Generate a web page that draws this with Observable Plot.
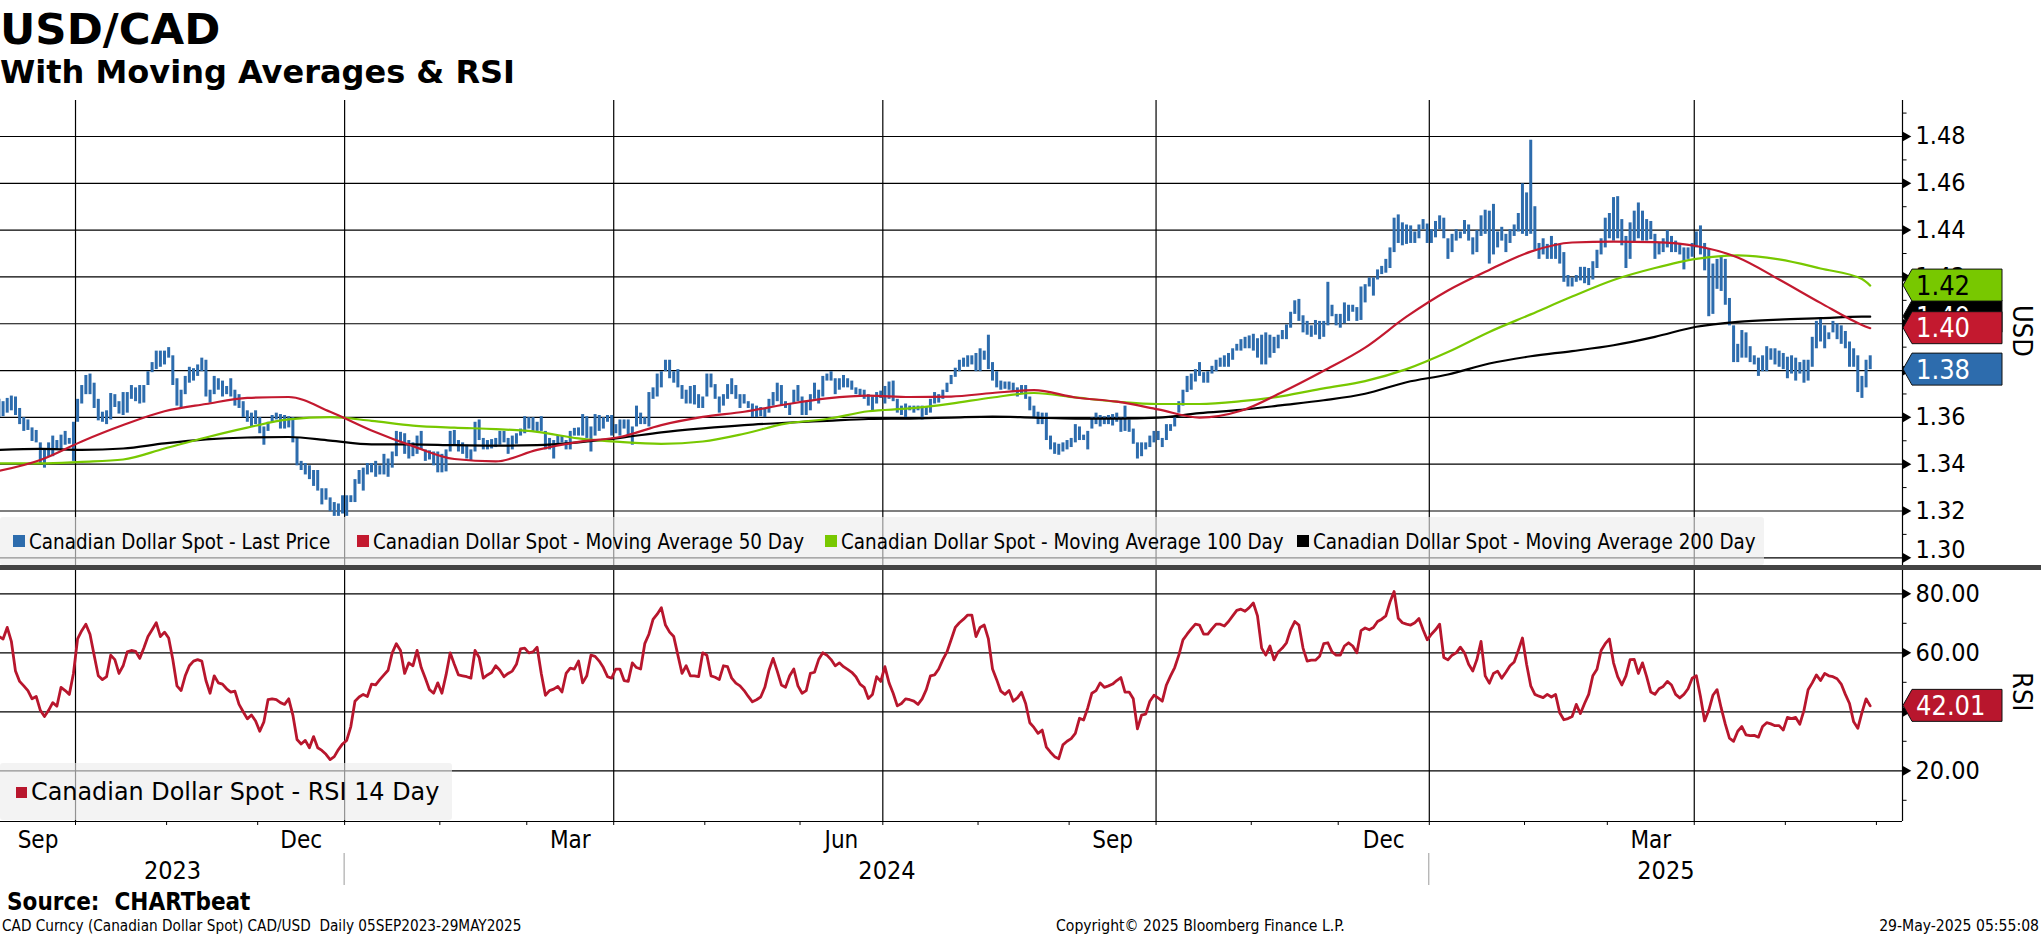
<!DOCTYPE html>
<html>
<head>
<meta charset="utf-8">
<script src="https://cdn.jsdelivr.net/npm/d3@7"></script>
<script src="https://cdn.jsdelivr.net/npm/@observablehq/plot@0.6"></script>
<style>
  html, body { margin: 0; padding: 0; background: #fff; }
  #wrap { position: relative; width: 2041px; height: 936px; overflow: hidden; background: #fff; color: #000;
          font-family: "DejaVu Sans Condensed", "DejaVu Sans", sans-serif; font-stretch: condensed; }
  .abs { position: absolute; white-space: pre; }
  .title { left: 0; top: 8px; font: bold 43.5px/43.5px "DejaVu Sans", sans-serif; font-stretch: normal; }
  .subtitle { left: 0; top: 56px; font: bold 32px/32px "DejaVu Sans", sans-serif; font-stretch: normal; }
  .legbox { position: absolute; left: 0; background: rgba(236,236,236,0.62); border-radius: 3px; }
  .sq { position: absolute; }
  .legtxt { position: absolute; white-space: pre; }
  .vlabel { position: absolute; writing-mode: vertical-rl; font-size: 27px; line-height: 27px; white-space: nowrap; }
  .sep { position: absolute; left: 0; top: 565px; width: 2041px; height: 5px; background: #444; }
</style>
</head>
<body>
<div id="wrap">
  <div class="abs title">USD/CAD</div>
  <div class="abs subtitle">With Moving Averages &amp; RSI</div>
</div>
<script>
// ---------------- DATA ----------------
const seriesStart = "2023-09-05";
const seriesEnd = "2025-05-29";
const seriesNames = [
  "Canadian Dollar Spot - Last Price",
  "Canadian Dollar Spot - Moving Average 50 Day",
  "Canadian Dollar Spot - Moving Average 100 Day",
  "Canadian Dollar Spot - Moving Average 200 Day"
];
const rsiName = "Canadian Dollar Spot - RSI 14 Day";

// Daily high / low (one value per trading day from 05SEP2023)
const priceHigh = [
  1.3677,1.3667,1.3681,1.3691,1.3687,1.3638,1.3599,1.3589,1.3555,1.3544,
  1.3491,1.3461,1.3491,1.3520,1.3501,1.3524,1.3540,1.3510,1.3579,1.3677,
  1.3736,1.3779,1.3785,1.3746,1.3677,1.3622,1.3628,1.3702,1.3697,1.3667,
  1.3706,1.3706,1.3736,1.3726,1.3736,1.3736,1.3795,1.3834,1.3883,1.3883,
  1.3883,1.3898,1.3863,1.3765,1.3716,1.3775,1.3814,1.3808,1.3824,1.3853,
  1.3844,1.3716,1.3775,1.3765,1.3755,1.3732,1.3765,1.3716,1.3697,1.3667,
  1.3628,1.3618,1.3628,1.3599,1.3559,1.3579,1.3608,1.3618,1.3612,1.3608,
  1.3603,1.3599,1.3510,1.3412,1.3403,1.3393,1.3373,1.3373,1.3295,1.3295,
  1.3256,1.3236,1.3230,1.3265,1.3265,1.3265,1.3334,1.3373,1.3383,1.3403,
  1.3403,1.3412,1.3393,1.3442,1.3422,1.3452,1.3540,1.3536,1.3530,1.3501,
  1.3491,1.3520,1.3540,1.3461,1.3457,1.3452,1.3452,1.3442,1.3461,1.3540,
  1.3544,1.3501,1.3491,1.3481,1.3461,1.3579,1.3589,1.3510,1.3501,1.3505,
  1.3510,1.3540,1.3540,1.3510,1.3520,1.3530,1.3550,1.3603,1.3599,1.3599,
  1.3579,1.3603,1.3540,1.3510,1.3501,1.3520,1.3520,1.3501,1.3540,1.3553,
  1.3555,1.3612,1.3603,1.3559,1.3612,1.3608,1.3599,1.3608,1.3608,1.3569,
  1.3589,1.3589,1.3589,1.3559,1.3648,1.3618,1.3599,1.3706,1.3726,1.3785,
  1.3795,1.3844,1.3844,1.3795,1.3804,1.3736,1.3716,1.3732,1.3736,1.3697,
  1.3687,1.3785,1.3785,1.3740,1.3687,1.3697,1.3740,1.3765,1.3736,1.3697,
  1.3697,1.3667,1.3657,1.3648,1.3642,1.3638,1.3677,1.3706,1.3746,1.3736,
  1.3667,1.3657,1.3716,1.3736,1.3687,1.3667,1.3697,1.3746,1.3716,1.3775,
  1.3785,1.3795,1.3765,1.3765,1.3779,1.3765,1.3755,1.3726,1.3720,1.3716,
  1.3697,1.3687,1.3706,1.3712,1.3732,1.3751,1.3755,1.3677,1.3648,1.3657,
  1.3648,1.3648,1.3648,1.3648,1.3642,1.3677,1.3706,1.3697,1.3716,1.3746,
  1.3779,1.3810,1.3844,1.3853,1.3863,1.3863,1.3873,1.3893,1.3883,1.3951,
  1.3834,1.3795,1.3755,1.3751,1.3751,1.3746,1.3726,1.3736,1.3736,1.3687,
  1.3648,1.3622,1.3618,1.3618,1.3520,1.3491,1.3485,1.3491,1.3501,1.3510,
  1.3569,1.3559,1.3524,1.3540,1.3599,1.3618,1.3608,1.3603,1.3608,1.3612,
  1.3618,1.3599,1.3648,1.3589,1.3550,1.3491,1.3491,1.3491,1.3520,1.3540,
  1.3540,1.3510,1.3569,1.3569,1.3599,1.3667,1.3716,1.3775,1.3785,1.3804,
  1.3834,1.3791,1.3795,1.3818,1.3844,1.3853,1.3863,1.3873,1.3893,1.3912,
  1.3932,1.3942,1.3948,1.3955,1.3936,1.3951,1.3961,1.3951,1.3942,1.3951,
  1.3971,1.3995,1.4049,1.4098,1.4104,1.4034,1.4010,1.3991,1.4014,1.4010,
  1.4010,1.4177,1.4079,1.4040,1.4040,1.4089,1.4079,1.4079,1.4069,1.4157,
  1.4167,1.4196,1.4196,1.4230,1.4245,1.4275,1.4324,1.4451,1.4465,1.4431,
  1.4422,1.4418,1.4392,1.4422,1.4445,1.4426,1.4402,1.4437,1.4461,1.4451,
  1.4363,1.4382,1.4402,1.4392,1.4441,1.4422,1.4367,1.4398,1.4461,1.4485,
  1.4481,1.4510,1.4392,1.4412,1.4382,1.4402,1.4422,1.4471,1.4598,1.4559,
  1.4784,1.4500,1.4343,1.4363,1.4339,1.4373,1.4343,1.4339,1.4304,1.4206,
  1.4196,1.4206,1.4241,1.4241,1.4236,1.4265,1.4314,1.4363,1.4451,1.4471,
  1.4539,1.4543,1.4445,1.4373,1.4431,1.4481,1.4516,1.4481,1.4445,1.4437,
  1.4382,1.4343,1.4363,1.4398,1.4373,1.4353,1.4343,1.4324,1.4324,1.4343,
  1.4392,1.4418,1.4343,1.4320,1.4255,1.4275,1.4284,1.4275,1.4108,1.3991,
  1.3912,1.3971,1.3961,1.3902,1.3863,1.3853,1.3863,1.3902,1.3893,1.3893,
  1.3883,1.3873,1.3857,1.3863,1.3853,1.3834,1.3844,1.3844,1.3942,1.4010,
  1.4020,1.3991,1.3961,1.4010,1.4000,1.3991,1.3967,1.3922,1.3893,1.3863,
  1.3775,1.3844,1.3863
];
const priceLow = [
  1.3599,1.3603,1.3618,1.3628,1.3608,1.3569,1.3540,1.3544,1.3497,1.3491,
  1.3403,1.3383,1.3432,1.3432,1.3461,1.3461,1.3481,1.3485,1.3412,1.3579,
  1.3657,1.3697,1.3697,1.3638,1.3585,1.3579,1.3569,1.3589,1.3642,1.3614,
  1.3608,1.3618,1.3677,1.3667,1.3657,1.3661,1.3736,1.3791,1.3804,1.3814,
  1.3824,1.3853,1.3736,1.3648,1.3638,1.3697,1.3746,1.3755,1.3775,1.3795,
  1.3687,1.3661,1.3697,1.3716,1.3687,1.3697,1.3687,1.3648,1.3638,1.3599,
  1.3579,1.3559,1.3569,1.3530,1.3481,1.3540,1.3579,1.3589,1.3550,1.3550,
  1.3555,1.3491,1.3393,1.3373,1.3354,1.3334,1.3305,1.3285,1.3226,1.3246,
  1.3197,1.3177,1.3177,1.3187,1.3177,1.3236,1.3236,1.3314,1.3285,1.3354,
  1.3363,1.3344,1.3354,1.3354,1.3344,1.3383,1.3432,1.3491,1.3442,1.3422,
  1.3432,1.3442,1.3461,1.3412,1.3418,1.3393,1.3363,1.3363,1.3367,1.3452,
  1.3481,1.3452,1.3442,1.3422,1.3412,1.3452,1.3501,1.3461,1.3461,1.3465,
  1.3471,1.3481,1.3491,1.3442,1.3461,1.3485,1.3520,1.3530,1.3550,1.3540,
  1.3540,1.3540,1.3461,1.3461,1.3422,1.3481,1.3491,1.3461,1.3461,1.3520,
  1.3520,1.3520,1.3510,1.3452,1.3520,1.3540,1.3550,1.3579,1.3520,1.3530,
  1.3520,1.3550,1.3520,1.3481,1.3559,1.3569,1.3569,1.3559,1.3677,1.3687,
  1.3726,1.3795,1.3765,1.3746,1.3726,1.3677,1.3657,1.3657,1.3653,1.3638,
  1.3638,1.3687,1.3726,1.3677,1.3618,1.3648,1.3677,1.3697,1.3677,1.3638,
  1.3657,1.3638,1.3599,1.3599,1.3603,1.3599,1.3618,1.3648,1.3667,1.3648,
  1.3638,1.3608,1.3657,1.3667,1.3608,1.3608,1.3628,1.3677,1.3657,1.3687,
  1.3755,1.3755,1.3697,1.3716,1.3726,1.3726,1.3716,1.3697,1.3687,1.3677,
  1.3648,1.3628,1.3657,1.3681,1.3657,1.3677,1.3667,1.3618,1.3608,1.3599,
  1.3628,1.3618,1.3628,1.3589,1.3608,1.3618,1.3657,1.3661,1.3677,1.3706,
  1.3740,1.3771,1.3795,1.3814,1.3814,1.3824,1.3795,1.3795,1.3844,1.3804,
  1.3755,1.3726,1.3716,1.3720,1.3716,1.3706,1.3687,1.3697,1.3677,1.3628,
  1.3599,1.3569,1.3569,1.3501,1.3461,1.3442,1.3438,1.3452,1.3461,1.3471,
  1.3491,1.3501,1.3501,1.3461,1.3550,1.3569,1.3559,1.3569,1.3569,1.3563,
  1.3579,1.3536,1.3540,1.3536,1.3485,1.3422,1.3432,1.3461,1.3471,1.3491,
  1.3501,1.3471,1.3501,1.3540,1.3559,1.3618,1.3648,1.3706,1.3716,1.3751,
  1.3775,1.3746,1.3746,1.3785,1.3795,1.3814,1.3814,1.3814,1.3844,1.3883,
  1.3883,1.3893,1.3893,1.3883,1.3853,1.3824,1.3824,1.3853,1.3873,1.3893,
  1.3932,1.3932,1.3981,1.4040,1.4010,1.3961,1.3951,1.3942,1.3951,1.3932,
  1.3942,1.3991,1.4030,1.3991,1.3981,1.4000,1.4010,1.4049,1.4010,1.4014,
  1.4089,1.4157,1.4118,1.4187,1.4210,1.4216,1.4236,1.4304,1.4343,1.4333,
  1.4339,1.4343,1.4343,1.4363,1.4402,1.4343,1.4343,1.4367,1.4402,1.4363,
  1.4275,1.4304,1.4353,1.4363,1.4382,1.4353,1.4294,1.4304,1.4373,1.4382,
  1.4255,1.4294,1.4324,1.4353,1.4304,1.4343,1.4373,1.4392,1.4382,1.4373,
  1.4382,1.4314,1.4275,1.4294,1.4275,1.4275,1.4275,1.4255,1.4177,1.4157,
  1.4157,1.4177,1.4183,1.4171,1.4163,1.4187,1.4236,1.4294,1.4324,1.4363,
  1.4353,1.4363,1.4333,1.4236,1.4275,1.4343,1.4363,1.4353,1.4353,1.4359,
  1.4275,1.4294,1.4304,1.4324,1.4304,1.4304,1.4294,1.4230,1.4275,1.4284,
  1.4324,1.4294,1.4226,1.4030,1.4040,1.4147,1.4138,1.4079,1.3991,1.3834,
  1.3834,1.3853,1.3853,1.3834,1.3824,1.3775,1.3795,1.3795,1.3844,1.3824,
  1.3814,1.3804,1.3765,1.3785,1.3755,1.3785,1.3746,1.3755,1.3814,1.3893,
  1.3922,1.3893,1.3932,1.3961,1.3932,1.3912,1.3893,1.3814,1.3814,1.3706,
  1.3681,1.3726,1.3804
];
const lastPrice = 1.3804;

// Moving averages, read every 10 trading days (last value = last trading day)
const maEvery = 10;
const ma50 = [1.3371,1.3418,1.3497,1.3567,1.3626,1.3657,1.3683,1.3687,1.3624,1.3544,
  1.3477,1.3422,1.3412,1.3461,1.3495,1.3516,1.3567,1.3602,1.3624,1.3655,
  1.3681,1.3693,1.3687,1.3689,1.3704,1.3716,1.3685,1.3667,1.3634,1.3599,
  1.3628,1.3708,1.3799,1.3898,1.4030,1.4142,1.4230,1.4308,1.4347,1.4351,
  1.4349,1.4332,1.4283,1.4189,1.4089,1.3995,1.3981];
const ma100 = [1.3403,1.3403,1.3410,1.3420,1.3467,1.3514,1.3556,1.3591,1.3601,1.3585,
  1.3565,1.3556,1.3550,1.3538,1.3510,1.3495,1.3487,1.3497,1.3530,1.3573,
  1.3593,1.3626,1.3638,1.3659,1.3685,1.3704,1.3685,1.3667,1.3657,1.3657,
  1.3669,1.3691,1.3724,1.3755,1.3806,1.3879,1.3965,1.4040,1.4116,1.4187,
  1.4238,1.4277,1.4292,1.4275,1.4236,1.4191,1.4163];
const ma200 = [1.3461,1.3465,1.3461,1.3467,1.3489,1.3506,1.3514,1.3516,1.3501,1.3485,
  1.3485,1.3481,1.3479,1.3481,1.3493,1.3512,1.3536,1.3553,1.3567,1.3577,
  1.3585,1.3593,1.3595,1.3599,1.3603,1.3599,1.3595,1.3595,1.3599,1.3618,
  1.3632,1.3652,1.3673,1.3701,1.3750,1.3783,1.3830,1.3861,1.3883,1.3908,
  1.3944,1.3987,1.4008,1.4018,1.4024,1.4030,1.4030];

// RSI 14 day, one value per trading day
const rsi14 = [
  65.5,64.7,68.6,63.9,53.8,50.3,48.8,47.2,44.4,45.2,
  40.5,38.4,40.5,43.1,41.9,48.3,47.2,45.9,53.0,64.7,
  67.5,69.7,66.3,59.2,52.2,50.9,51.9,59.2,57.7,53.0,
  55.6,60.3,60.8,60.5,58.1,61.6,65.5,67.8,70.2,65.5,
  67.0,65.0,57.7,48.8,47.2,52.2,55.6,57.2,57.7,57.2,
  50.6,46.3,52.2,49.8,49.4,47.8,46.7,47.0,42.5,40.0,
  37.6,38.9,36.9,33.4,36.6,44.1,44.4,44.1,43.1,42.5,
  44.4,38.9,30.6,29.1,30.3,27.8,31.6,27.8,26.9,25.6,
  23.8,24.8,27.2,29.1,30.3,35.0,43.6,45.0,45.9,45.2,
  49.4,49.1,50.9,52.5,54.1,60.0,63.1,60.8,53.0,56.6,
  55.6,60.8,55.0,51.4,47.5,46.3,49.8,46.3,52.5,60.0,
  56.1,52.5,52.2,51.9,51.4,60.8,58.4,51.4,52.5,53.3,
  55.6,54.1,51.9,53.0,53.8,56.1,61.3,61.6,60.0,60.3,
  61.9,53.0,45.6,47.2,47.7,48.6,46.7,53.0,54.8,54.5,
  57.2,49.8,52.2,59.2,58.8,57.2,55.0,51.9,51.4,54.5,
  54.5,50.6,50.3,56.6,55.0,54.5,63.1,66.3,71.3,73.1,
  75.3,69.4,67.0,65.5,59.2,53.0,55.6,52.2,52.2,51.9,
  60.0,59.2,52.2,51.7,50.9,55.6,55.3,51.4,49.7,48.8,
  47.2,45.2,43.4,44.1,45.0,48.3,54.1,58.1,53.8,49.1,
  48.3,52.2,54.5,48.8,46.3,47.2,53.0,53.4,57.7,60.0,
  59.2,57.7,55.6,56.6,55.3,54.4,53.4,51.9,49.4,48.3,
  44.5,45.9,51.9,50.3,55.3,49.8,46.3,42.0,42.8,44.4,
  44.1,43.6,42.5,44.4,47.5,52.2,52.5,54.5,57.7,60.3,
  64.4,68.6,70.2,71.4,72.8,72.8,65.5,68.6,69.4,64.7,
  54.5,50.9,47.0,45.9,47.2,43.6,44.7,46.6,42.8,36.3,
  34.7,32.7,33.8,28.0,26.3,24.8,24.1,28.8,30.0,30.9,
  32.7,37.8,37.2,41.3,46.3,47.2,49.8,48.3,48.8,49.4,
  50.6,51.6,46.7,46.7,44.4,34.2,38.9,39.2,43.6,45.6,
  44.7,43.6,49.1,52.2,55.0,59.2,64.4,66.3,68.1,69.7,
  69.4,66.3,66.3,68.1,69.7,69.7,69.1,70.6,72.5,74.4,
  74.8,74.1,75.3,76.9,72.5,61.6,59.2,62.3,57.6,60.3,
  61.6,63.4,67.8,70.6,69.4,61.6,57.2,57.5,57.5,58.8,
  63.1,63.4,60.3,59.2,59.2,62.3,63.4,62.3,60.0,67.5,
  68.4,67.8,68.6,70.6,71.4,72.5,77.2,80.8,71.7,70.2,
  69.7,69.4,70.2,71.6,67.8,64.4,66.3,67.8,69.7,58.4,
  57.6,59.2,60.0,61.9,60.0,56.1,53.8,57.7,63.9,52.2,
  49.7,53.0,53.8,51.4,53.4,55.6,56.9,60.8,65.0,56.1,
  48.8,45.9,45.3,44.8,45.9,45.0,45.9,39.7,37.3,37.7,
  38.4,42.5,39.4,42.8,45.9,52.2,54.4,60.8,63.1,64.7,
  56.6,51.9,49.1,52.2,57.7,57.8,53.0,56.6,51.9,46.7,
  45.9,47.8,48.6,50.3,49.1,45.9,44.7,45.9,47.8,51.4,
  52.2,45.2,36.9,40.5,45.6,47.5,41.3,35.8,31.1,30.0,
  33.4,35.0,32.2,31.9,32.0,31.4,35.0,36.3,35.9,35.3,
  35.3,33.8,38.1,37.7,38.1,35.8,40.5,47.5,49.8,52.5,
  50.6,53.0,52.2,51.9,51.2,49.4,45.9,42.8,36.6,34.4,
  39.7,44.4,42.01
];

// Axis ticks
const priceTicks = [1.30,1.32,1.34,1.36,1.38,1.40,1.42,1.44,1.46,1.48];
const priceMinor = [1.31,1.33,1.35,1.37,1.39,1.41,1.43,1.45,1.47,1.49];
const rsiTicks = [20,40,60,80];
const rsiMinor = [10,30,50,70];
const labelMonths = {8: "Sep", 11: "Dec", 2: "Mar", 5: "Jun"};

// ---------------- STYLE ----------------
const BLUE = "#2d6cad", RED = "#c3192f", GREEN = "#78c800", BLACK = "#000", RSI_RED = "#b8162d";
const W = 2041, PLOT_RIGHT = 1902;
const COND = '"DejaVu Sans Condensed", "DejaVu Sans", sans-serif';

// ---------------- CALENDAR (trading days = weekdays) ----------------
const sessions = [];
{
  const [sy, sm, sd] = seriesStart.split("-").map(Number);
  const d = new Date(Date.UTC(sy, sm - 1, sd));
  const stop = Date.UTC(2025, 5, 30);
  while (d.getTime() <= stop) {
    const w = d.getUTCDay();
    if (w !== 0 && w !== 6) sessions.push(new Date(d.getTime()));
    d.setUTCDate(d.getUTCDate() + 1);
  }
}
const N = priceHigh.length;
const lastIdx = N - 1;
const xDomain = [0.38, 459.8];

const bounds = [];
for (let k = 1; k < sessions.length; k++) {
  if (sessions[k].getUTCMonth() !== sessions[k - 1].getUTCMonth())
    bounds.push({pos: k - 0.5, month: sessions[k].getUTCMonth(), year: sessions[k].getUTCFullYear()});
}
const inDom = b => b.pos > xDomain[0] && b.pos < xDomain[1];
const monthTicks = bounds.filter(inDom).map(b => b.pos);
const quarterLines = bounds.filter(b => inDom(b) && b.month % 3 === 0).map(b => b.pos);
const yearLines = bounds.filter(b => inDom(b) && b.month === 0).map(b => b.pos);

const monthLabels = [];
{
  let a = xDomain[0], m = sessions[0].getUTCMonth(), first = 0;
  for (const b of bounds) {
    const end = Math.min(b.pos, xDomain[1]);
    if (labelMonths[m] && first <= lastIdx) monthLabels.push({c: (a + end) / 2, name: labelMonths[m]});
    if (b.pos >= xDomain[1]) break;
    a = b.pos; m = b.month; first = b.pos + 0.5;
  }
}
const years = [...new Set(sessions.slice(0, N).map(d => d.getUTCFullYear()))];
const yearLabels = years.map(y => {
  const s = bounds.find(b => b.month === 0 && b.year === y);
  const e = bounds.find(b => b.month === 0 && b.year === y + 1);
  const a = Math.max(xDomain[0], s ? s.pos : xDomain[0]);
  const z = Math.min(xDomain[1], e ? e.pos : xDomain[1]);
  return {c: (a + z) / 2, name: String(y)};
});

// ---------------- ROWS ----------------
const bars = d3.range(N).map(i => ({i, lo: priceLow[i], hi: priceHigh[i]}));
const maRows = arr => arr.map((v, k) => ({i: k === arr.length - 1 ? lastIdx : k * maEvery, v}));
const rsiRows = rsi14.map((v, i) => ({i, v}));

// ---------------- TOP PANE ----------------
const yTop = [1.29628, 1.49538];
const topChart = Plot.plot({
  width: W, height: 466,
  marginLeft: 0, marginRight: W - PLOT_RIGHT, marginTop: 0, marginBottom: 0,
  x: {type: "linear", domain: xDomain, axis: null},
  y: {domain: yTop, axis: null},
  style: {background: "transparent", overflow: "visible", fontFamily: COND, fontSize: "25px", color: "#000"},
  marks: [
    Plot.ruleY(priceTicks, {stroke: BLACK, strokeWidth: 1.2}),
    Plot.ruleX(quarterLines, {stroke: BLACK, strokeWidth: 1.2}),
    Plot.ruleX(bars, {x: "i", y1: "lo", y2: "hi", stroke: BLUE, strokeWidth: 3}),
    Plot.line(maRows(ma200), {x: "i", y: "v", stroke: BLACK, strokeWidth: 2.2, curve: "monotone-x"}),
    Plot.line(maRows(ma100), {x: "i", y: "v", stroke: GREEN, strokeWidth: 2.2, curve: "monotone-x"}),
    Plot.line(maRows(ma50), {x: "i", y: "v", stroke: RED, strokeWidth: 2.2, curve: "monotone-x"}),
    Plot.ruleX([xDomain[1]], {stroke: BLACK, strokeWidth: 1.2}),
    Plot.ruleY(priceMinor.filter(v => v < yTop[1]), {x1: xDomain[1], x2: xDomain[1] + 1.1, stroke: BLACK}),
    Plot.dot(priceTicks, {x: () => xDomain[1], y: d => d, symbol: "triangle", rotate: 90, r: 3.6, dx: 3.2, fill: BLACK, stroke: "none"}),
    Plot.axisY(priceTicks.slice(1), {anchor: "right", tickSize: 0, tickPadding: 13, tickFormat: d3.format(".2f"), label: null}),
    Plot.axisY(priceTicks.slice(0, 1), {anchor: "right", tickSize: 0, tickPadding: 13, tickFormat: d3.format(".2f"), label: null, dy: -8})
  ]
});

// ---------------- BOTTOM PANE ----------------
const yBot = [2.81, 88.58];
const botChart = Plot.plot({
  width: W, height: 321,
  marginLeft: 0, marginRight: W - PLOT_RIGHT, marginTop: 0, marginBottom: 68,
  x: {type: "linear", domain: xDomain, axis: null},
  y: {domain: yBot, axis: null},
  style: {background: "transparent", overflow: "visible", fontFamily: COND, fontSize: "25px", color: "#000"},
  marks: [
    Plot.ruleY(rsiTicks, {stroke: BLACK, strokeWidth: 1.2}),
    Plot.ruleX(quarterLines, {stroke: BLACK, strokeWidth: 1.2}),
    Plot.line(rsiRows, {x: "i", y: "v", stroke: RSI_RED, strokeWidth: 2.8, strokeLinejoin: "round"}),
    Plot.ruleX([xDomain[1]], {stroke: BLACK, strokeWidth: 1.2}),
    Plot.ruleY([yBot[0]], {stroke: BLACK, strokeWidth: 1.2}),
    Plot.ruleY(rsiMinor, {x1: xDomain[1], x2: xDomain[1] + 1.1, stroke: BLACK}),
    Plot.dot(rsiTicks, {x: () => xDomain[1], y: d => d, symbol: "triangle", rotate: 90, r: 3.6, dx: 3.2, fill: BLACK, stroke: "none"}),
    Plot.axisY(rsiTicks, {anchor: "right", tickSize: 0, tickPadding: 13, tickFormat: d3.format(".2f"), label: null}),
    Plot.axisX(monthTicks, {anchor: "bottom", tickSize: 4, tickFormat: () => "", label: null}),
    Plot.text(monthLabels, {x: "c", text: "name", frameAnchor: "bottom", lineAnchor: "bottom", dy: 26, fontSize: 24, fill: BLACK}),
    Plot.text(yearLabels, {x: "c", text: "name", frameAnchor: "bottom", lineAnchor: "bottom", dy: 57, fontSize: 25, fill: BLACK})
  ]
});

// ---------------- PLACE ----------------
const wrap = document.getElementById("wrap");
topChart.style.position = "absolute"; topChart.style.left = "0px"; topChart.style.top = "100px";
botChart.style.position = "absolute"; botChart.style.left = "0px"; botChart.style.top = "568px";
wrap.appendChild(topChart);
wrap.appendChild(botChart);

{
  const xs = botChart.scale("x");
  const g = d3.select(botChart).append("g");
  for (const p of yearLines) {
    const x = xs.apply(p);
    g.append("line").attr("x1", x).attr("x2", x).attr("y1", 285).attr("y2", 317)
      .attr("stroke", "#9a9a9a").attr("stroke-width", 1);
  }
}

function addTag(svg, value, fill, textFill, label) {
  const y = svg.scale("y").apply(value);
  const x0 = PLOT_RIGHT + 1, x1 = PLOT_RIGHT + 10, x2 = PLOT_RIGHT + 100, h = 16;
  const g = d3.select(svg).append("g");
  g.append("path")
    .attr("d", `M${x0},${y} L${x1},${y - h} L${x2},${y - h} L${x2},${y + h} L${x1},${y + h} Z`)
    .attr("fill", fill).attr("stroke", "#111").attr("stroke-width", 1);
  g.append("text").attr("x", x1 + 4).attr("y", y).attr("dy", "0.36em")
    .attr("text-anchor", "start")
    .attr("fill", textFill).attr("font-size", 27).attr("font-family", COND).text(label);
}
const f2 = d3.format(".2f");
addTag(topChart, ma200[ma200.length - 1], BLACK, "#fff", f2(ma200[ma200.length - 1]));
addTag(topChart, ma100[ma100.length - 1], GREEN, "#000", f2(ma100[ma100.length - 1]));
addTag(topChart, ma50[ma50.length - 1], RED, "#fff", f2(ma50[ma50.length - 1]));
addTag(topChart, lastPrice, BLUE, "#fff", f2(lastPrice));
addTag(botChart, rsi14[rsi14.length - 1], RSI_RED, "#fff", f2(rsi14[rsi14.length - 1]));

// ---------------- HTML OVERLAYS ----------------
function el(cls, css, text) {
  const d = document.createElement("div");
  d.className = cls; d.style.cssText = css; if (text != null) d.textContent = text;
  wrap.appendChild(d); return d;
}
el("sep", "");
el("legbox", "top:517px;width:1764px;height:48px;");
const legColors = [BLUE, RED, GREEN, BLACK];
const legSq = [13, 357, 825, 1297];
seriesNames.forEach((name, k) => {
  el("sq", `left:${legSq[k]}px;top:535px;width:12px;height:12px;background:${legColors[k]};`);
  el("legtxt", `left:${legSq[k] + 16}px;top:532px;font-size:20.4px;line-height:20.4px;font-family:${COND};font-stretch:condensed;`, name);
});
el("legbox", "top:763px;width:452px;height:57px;");
el("sq", `left:16px;top:787px;width:11px;height:11px;background:${RSI_RED};`);
el("legtxt", `left:31px;top:781px;font-size:23.9px;line-height:23.9px;font-family:"DejaVu Sans",sans-serif;font-stretch:normal;`, rsiName);
el("vlabel", "left:2009px;top:305px;", "USD");
el("vlabel", "left:2009px;top:672px;", "RSI");
el("abs", `left:7px;top:890px;font-weight:bold;font-size:24px;line-height:24px;font-family:${COND};`, "Source:  CHARTbeat");
el("abs", `left:2px;top:919px;font-size:15.2px;line-height:15.2px;font-family:${COND};`,
   "CAD Curncy (Canadian Dollar Spot) CAD/USD  Daily 05SEP2023-29MAY2025");
el("abs", `left:1056px;top:919px;font-size:15.6px;line-height:15.6px;font-family:${COND};`, "Copyright\u00A9 2025 Bloomberg Finance L.P.");
el("abs", `right:2px;top:919px;font-size:15.6px;line-height:15.6px;font-family:${COND};`, "29-May-2025 05:55:08");
</script>
</body>
</html>
